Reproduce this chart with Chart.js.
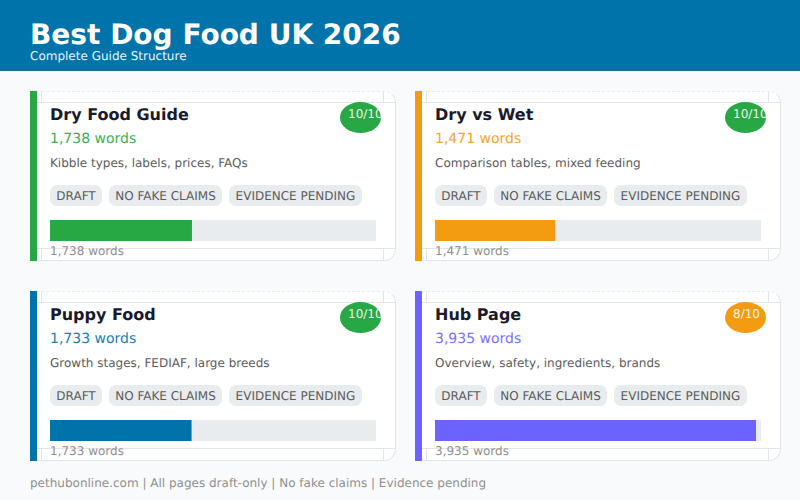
<!DOCTYPE html>
<html>
<head>
<meta charset="utf-8">
<script src="https://cdn.jsdelivr.net/npm/chart.js@4"></script>
<style>
html, body { margin: 0; padding: 0; }
body { width: 800px; height: 500px; position: relative; overflow: hidden; background: #f8fafc; font-family: "DejaVu Sans", sans-serif; text-rendering: geometricPrecision; }
.abs, .abs * { white-space: nowrap; }
.abs { position: absolute; }
#header { left: 0; top: 0; width: 800px; height: 70px; background: #0073aa; border-bottom: 1px solid #1a6f9f; }
#title { left: 30px; top: 18px; font-size: 28px; line-height: 34px; font-weight: 700; color: #fff; }
#subtitle { left: 30px; top: 49px; font-size: 12px; line-height: 15px; color: #e6f4fb; }
#footer { left: 30px; top: 476px; font-size: 12px; line-height: 15px; color: #909090; }
.card { width: 366px; height: 170px; box-sizing: border-box; background: #fff; border: 1px solid #e2e6ea; border-top: 1px dashed #e9ecef; border-radius: 12px; }
.accent { width: 7px; height: 170px; }
.line { background: #e2e6ea; }
.name { font-size: 16px; line-height: 20px; font-weight: 700; color: #1a1a2e; }
.words { font-size: 14px; line-height: 17px; opacity: 0.9; }
.desc { font-size: 12px; line-height: 15px; color: #5c5c5c; }
.tag { height: 21px; line-height: 23px; font-size: 12px; color: #5c5c5c; background: #e9ecef; border-radius: 7px; text-align: center; }
.badge { width: 41px; height: 31px; border-radius: 50%; overflow: hidden; color: #e8f6ea; font-size: 12px; line-height: 25px; }
.track { width: 326px; height: 21px; background: #e9ecef; }
.cap { font-size: 12px; line-height: 15px; color: #909090; }
</style>
</head>
<body>
<script>
const pageNames = ['Dry Food Guide', 'Dry vs Wet', 'Puppy Food', 'Hub Page'];
const wordCounts = [1738, 1471, 1733, 3935];
const wordLabels = ['1,738 words', '1,471 words', '1,733 words', '3,935 words'];
const descriptions = [
  'Kibble types, labels, prices, FAQs',
  'Comparison tables, mixed feeding',
  'Growth stages, FEDIAF, large breeds',
  'Overview, safety, ingredients, brands'
];
const scores = ['10/10', '10/10', '10/10', '8/10'];
const tagLabels = ['DRAFT', 'NO FAKE CLAIMS', 'EVIDENCE PENDING'];
const accentColors = ['#28a745', '#f39c12', '#0073aa', '#6c63ff'];
const badgeColors = ['#28a745', '#28a745', '#28a745', '#f39c12'];
const wordScaleMax = 4000;

function add(cls, x, y, text, extra) {
  const el = document.createElement('div');
  el.className = 'abs ' + cls;
  el.style.left = x + 'px';
  el.style.top = y + 'px';
  if (text) el.textContent = text;
  if (extra) Object.assign(el.style, extra);
  document.body.appendChild(el);
  return el;
}

document.body.insertAdjacentHTML('afterbegin',
  '<div class="abs" id="header"></div>' +
  '<div class="abs" id="title">Best Dog Food UK 2026</div>' +
  '<div class="abs" id="subtitle">Complete Guide Structure</div>' +
  '<div class="abs" id="footer">pethubonline.com | All pages draft-only | No fake claims | Evidence pending</div>');

pageNames.forEach((name, i) => {
  const ox = 30 + (i % 2) * 385;
  const oy = 91 + Math.floor(i / 2) * 200;

  add('card', ox, oy);
  // stray inner rules of the card
  add('line', ox + 7, oy + 11, '', { width: '358px', height: '1px' });
  add('line', ox + 7, oy + 157, '', { width: '358px', height: '1px' });
  add('line', ox + 11, oy, '', { width: '1px', height: '11px' });
  add('line', ox + 353, oy, '', { width: '1px', height: '11px' });
  add('line', ox + 11, oy + 157, '', { width: '1px', height: '13px' });
  add('line', ox + 353, oy + 157, '', { width: '1px', height: '13px' });
  add('accent', ox, oy, '', { background: accentColors[i] });

  add('name', ox + 20, oy + 14, name);
  add('words', ox + 20, oy + 40, wordLabels[i], { color: accentColors[i] });
  add('desc', ox + 20, oy + 65, descriptions[i]);

  const tagX = [20, 79, 199];
  const tagW = [52, 113, 133];
  tagLabels.forEach((t, k) => {
    add('tag', ox + tagX[k], oy + 94, t, { width: tagW[k] + 'px' });
  });

  const badge = add('badge', ox + 310, oy + 11, '', { background: badgeColors[i] });
  const score = document.createElement('span');
  score.textContent = scores[i];
  score.style.position = 'absolute';
  score.style.left = '8px';
  badge.appendChild(score);

  const track = add('track', ox + 20, oy + 129);
  const canvas = document.createElement('canvas');
  track.appendChild(canvas);
  new Chart(canvas, {
    type: 'bar',
    data: {
      labels: [name],
      datasets: [{
        data: [wordCounts[i]],
        backgroundColor: accentColors[i],
        borderWidth: 0,
        barPercentage: 1,
        categoryPercentage: 1
      }]
    },
    options: {
      indexAxis: 'y',
      responsive: true,
      maintainAspectRatio: false,
      animation: false,
      layout: { padding: 0 },
      plugins: { legend: { display: false }, tooltip: { enabled: false } },
      scales: {
        x: { display: false, min: 0, max: wordScaleMax },
        y: { display: false }
      }
    }
  });

  add('cap', ox + 20, oy + 153, wordLabels[i]);
});
</script>
</body>
</html>
